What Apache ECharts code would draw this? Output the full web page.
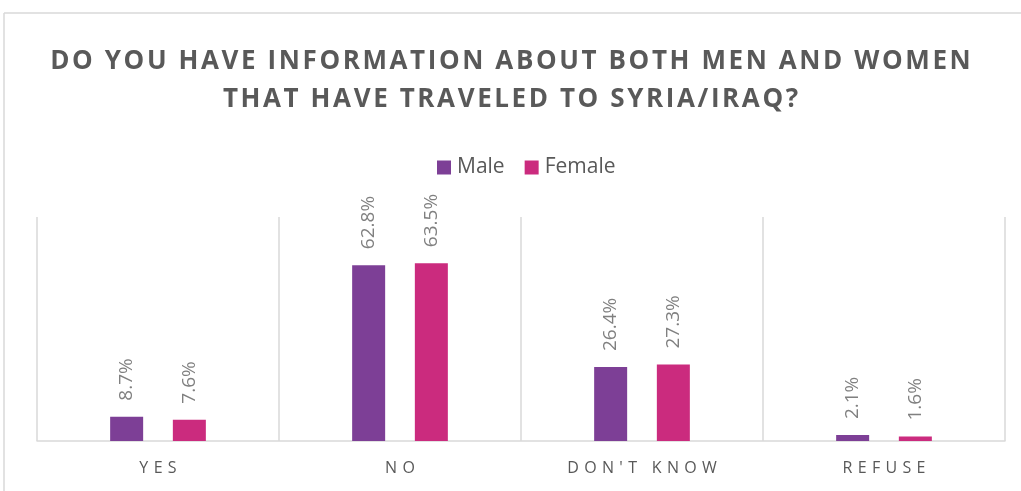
<!DOCTYPE html>
<html>
<head>
<meta charset="utf-8">
<script src="https://cdn.jsdelivr.net/npm/echarts@6/dist/echarts.min.js"></script>
<style>
  html, body { margin: 0; padding: 0; background: #fff; }
  #chart { width: 1021px; height: 491px; }
</style>
</head>
<body>
<div id="chart"></div>
<script>
// 数据
const categories = ['YES', 'NO', "DON'T KNOW", 'REFUSE'];
const maleValues = [8.7, 62.8, 26.4, 2.1];
const femaleValues = [7.6, 63.5, 27.3, 1.6];
const seriesNames = ['Male', 'Female'];
const titleLines = ['DO YOU HAVE INFORMATION ABOUT BOTH MEN AND WOMEN', 'THAT HAVE TRAVELED TO SYRIA/IRAQ?'];

// 字间距：在字符之间插入细空格
const spaced = (s, sp) => s.split('').join(sp);

const chart = echarts.init(document.getElementById('chart'));

const labelStyle = {
    show: true,
    position: 'top',
    rotate: 90,
    align: 'left',
    verticalAlign: 'middle',
    distance: 16,
    color: '#808080',
    fontSize: 19,
    fontFamily: 'Open Sans',
    formatter: p => p.value.toFixed(1) + '%'
};

chart.setOption({
    title: {
        text: titleLines.map(l => spaced(l, '\u200A')).join('\n'),
        left: 'center',
        top: 38,
        textStyle: {
            color: '#595959',
            fontSize: 26,
            fontWeight: 'bold',
            fontFamily: 'Open Sans',
            lineHeight: 38
        }
    },
    legend: {
        data: seriesNames,
        top: 157,
        left: 437,
        padding: 0,
        itemWidth: 14,
        itemHeight: 14,
        itemGap: 20,
        icon: 'rect',
        textStyle: { color: '#595959', fontSize: 21, fontFamily: 'Open Sans', padding: [0, 0, 0, 1] }
    },
    graphic: [
        { type: 'line', shape: { x1: 4, y1: 13, x2: 1021, y2: 13 }, style: { stroke: '#d9d9d9', lineWidth: 1.5 } },
        { type: 'line', shape: { x1: 4, y1: 13, x2: 4, y2: 491 }, style: { stroke: '#d9d9d9', lineWidth: 1.5 } }
    ],
    grid: { left: 37, right: 16, top: 217, bottom: 50 },
    xAxis: {
        type: 'category',
        data: categories,
        axisTick: { show: false },
        axisLine: { lineStyle: { color: '#d9d9d9', width: 1.5 } },
        splitLine: { show: true, lineStyle: { color: '#d9d9d9', width: 1.5 } },
        axisLabel: {
            color: '#595959',
            fontSize: 16,
            fontFamily: 'Open Sans',
            margin: 19,
            formatter: v => spaced(v, '\u2004')
        }
    },
    yAxis: {
        type: 'value',
        min: 0,
        max: 80,
        show: false,
        splitLine: { show: false }
    },
    series: [
        {
            name: 'Male',
            type: 'bar',
            data: maleValues,
            barWidth: 33,
            barGap: '90%',
            itemStyle: { color: '#7D3F96' },
            label: labelStyle
        },
        {
            name: 'Female',
            type: 'bar',
            data: femaleValues,
            barWidth: 33,
            itemStyle: { color: '#CB2B7E' },
            label: labelStyle
        }
    ]
});
</script>
</body>
</html>
